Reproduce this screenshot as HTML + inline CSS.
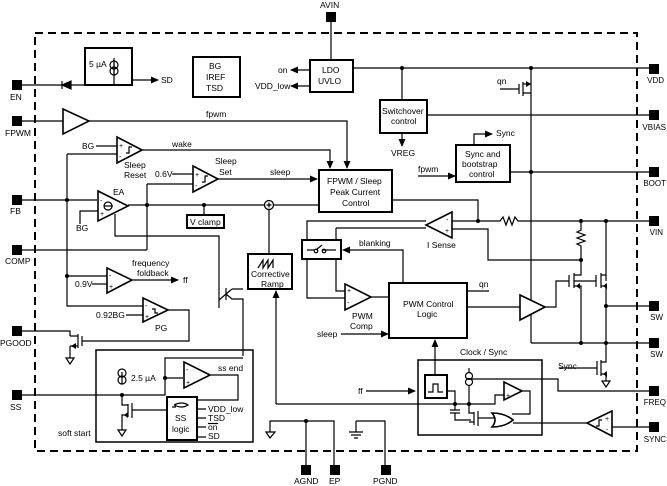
<!DOCTYPE html>
<html><head><meta charset="utf-8"><style>
html,body{margin:0;padding:0;background:#fff}
svg{display:block}
text{font-family:"Liberation Sans",Arial,sans-serif;font-size:8.5px;fill:#000}
.r{text-anchor:end;font-size:8px}
.l{stroke:#000;stroke-width:1.2;fill:none}
.b{stroke:#000;stroke-width:2;fill:#fff}
.t{stroke:#000;stroke-width:1.6;fill:#fff}
</style></head><body>
<svg width="667" height="486" viewBox="0 0 667 486" xmlns="http://www.w3.org/2000/svg">
<defs>
<marker id="a" markerWidth="8" markerHeight="8" refX="7" refY="4" orient="auto" markerUnits="userSpaceOnUse"><path d="M0,0.5 L8,4 L0,7.5Z" fill="#000"/></marker>
</defs>
<rect x="35" y="33" width="602" height="418" fill="none" stroke="#000" stroke-width="2" stroke-dasharray="8,5"/>

<g fill="#000">
<rect x="326" y="12" width="10" height="10"/>
<rect x="12" y="80" width="10" height="10"/>
<rect x="12" y="116" width="10" height="10"/>
<rect x="12" y="195" width="10" height="10"/>
<rect x="12" y="245" width="10" height="10"/>
<rect x="12" y="326" width="10" height="10"/>
<rect x="12" y="390" width="10" height="10"/>
<rect x="649" y="64" width="10" height="10"/>
<rect x="649" y="110" width="10" height="10"/>
<rect x="649" y="167" width="10" height="10"/>
<rect x="649" y="216" width="10" height="10"/>
<rect x="649" y="301" width="10" height="10"/>
<rect x="649" y="338" width="10" height="10"/>
<rect x="649" y="386" width="10" height="10"/>
<rect x="649" y="422" width="10" height="10"/>
<rect x="301" y="465" width="10" height="10"/>
<rect x="330" y="465" width="10" height="10"/>
<rect x="381" y="465" width="10" height="10"/>
</g>
<text x="320" y="8">AVIN</text>
<text x="10" y="100">EN</text>
<text x="5" y="136">FPWM</text>
<text x="10" y="214">FB</text>
<text x="5" y="264">COMP</text>
<text x="0" y="346">PGOOD</text>
<text x="10" y="410">SS</text>
<text x="664" y="83" class="r">VDD</text>
<text x="666" y="130" class="r">VBIAS</text>
<text x="666" y="186" class="r">BOOT</text>
<text x="663" y="235" class="r">VIN</text>
<text x="663" y="320" class="r">SW</text>
<text x="663" y="357" class="r">SW</text>
<text x="666" y="405" class="r">FREQ</text>
<text x="666" y="442" class="r">SYNC</text>
<text x="294" y="484">AGND</text>
<text x="329" y="484">EP</text>
<text x="373" y="484">PGND</text>

<rect class="b" x="85" y="48" width="47" height="37"/>
<path class="l" d="M20,85 H114 V58"/>
<path d="M62,81 V89 M62,85 L71,81 V89Z" stroke="#000" stroke-width="1.2" fill="#000"/>
<circle class="l" cx="114" cy="65" r="4"/><circle class="l" cx="114" cy="71" r="4"/>
<path class="l" d="M114,62 V74"/>
<text x="89" y="67">5 µA</text>
<path class="l" d="M132,80 H158" marker-end="url(#a)"/>
<text x="161" y="83">SD</text>

<rect class="b" x="193" y="57" width="47" height="40"/>
<text x="209" y="69">BG</text><text x="206" y="80">IREF</text><text x="206" y="91">TSD</text>

<path class="l" d="M331,22 V60"/>
<rect class="b" x="310" y="60" width="43" height="32"/>
<text x="322" y="73">LDO</text><text x="318" y="84">UVLO</text>
<path class="l" d="M310,70 H291" marker-end="url(#a)"/><text x="278" y="73">on</text>
<path class="l" d="M310,86 H291" marker-end="url(#a)"/><text x="255" y="89">VDD_low</text>
<path class="l" d="M353,68 H649"/>
<circle cx="402" cy="68" r="2"/><circle cx="531" cy="68" r="2"/>
<path class="l" d="M402,68 V100"/>
<rect class="b" x="380" y="100" width="47" height="33"/>
<text x="382" y="114">Switchover</text><text x="391" y="124">control</text>
<path class="l" d="M402,133 V146" marker-end="url(#a)"/>
<text x="391" y="156">VREG</text>
<path class="l" d="M427,115 H649"/>
<text x="497" y="84">qn</text>
<path class="l" d="M500,89 H519 M519,84 V94 M523,82 V96 M523,84 H531 M523,93 H531 M531,68 V343"/>
<path d="M531,84 L526,81 V87Z" fill="#000"/>
<rect class="b" x="456" y="145" width="54" height="37"/>
<text x="465" y="157">Sync and</text><text x="462" y="167">bootstrap</text><text x="469" y="177">control</text>
<path class="l" d="M474,145 V134 H492" marker-end="url(#a)"/><text x="496" y="136">Sync</text>
<path class="l" d="M418,176 H455" marker-end="url(#a)"/><text x="418" y="172">fpwm</text>
<path class="l" d="M510,172 H649"/><circle cx="531" cy="172" r="2"/>

<path class="l" d="M20,121 H63"/>
<path class="t" d="M63,109 L89,121 L63,134Z"/>
<path class="l" d="M89,121 H347 V168" marker-end="url(#a)"/>
<text x="206" y="117">fpwm</text>

<path class="t" d="M117,137 L142,150 L117,163Z"/>
<text x="119" y="148" style="font-size:7px">+</text><text x="119" y="159" style="font-size:7px">-</text>
<path class="l" d="M126,153 h3 v-6 h3"/>
<text x="82" y="149">BG</text><path class="l" d="M96,146 H117"/>
<path class="l" d="M142,150 H330 V168" marker-end="url(#a)"/><text x="172" y="147">wake</text>
<text x="124" y="168">Sleep</text><text x="124" y="178">Reset</text>
<path class="t" d="M193,166 L218,179 L193,192Z"/>
<text x="195" y="177" style="font-size:7px">+</text><text x="195" y="188" style="font-size:7px">-</text>
<path class="l" d="M202,182 h3 v-6 h3"/>
<text x="155" y="177">0.6V</text><path class="l" d="M172,174 H193"/>
<path class="l" d="M218,179 H317" marker-end="url(#a)"/><text x="270" y="175">sleep</text>
<text x="215" y="164">Sleep</text><text x="219" y="175">Set</text>
<rect class="b" x="319" y="170" width="73" height="42"/>
<text x="327" y="184">FPWM / Sleep</text><text x="330" y="195">Peak Current</text><text x="342" y="206">Control</text>

<path class="l" d="M20,200 H97 M67,154 H117 M67,154 V306 H143 M67,276 H107"/>
<circle cx="67" cy="200" r="2"/><circle cx="67" cy="276" r="2"/>
<path class="t" d="M98,191 L128,206 L98,221Z"/>
<circle class="l" cx="108" cy="206" r="4"/><path class="l" d="M104,206 H113"/>
<text x="100" y="203" style="font-size:7px">-</text><text x="100" y="216" style="font-size:7px">+</text>
<text x="113" y="195">EA</text>
<path class="l" d="M80,224 V211 H98"/><text x="76" y="231">BG</text>
<path class="l" d="M115,214 V236 H219 V300"/>
<path class="l" d="M128,205 H319"/>
<circle cx="147" cy="205" r="2"/><circle cx="204" cy="205" r="2"/>
<path class="l" d="M147,184 H193 M147,184 V250 M20,250 H147"/>
<path class="l" d="M204,205 V215"/>
<rect class="b" x="187" y="215" width="37" height="13"/><text x="190" y="225">V clamp</text>
<circle cx="269" cy="205" r="4.5" fill="#fff" stroke="#000" stroke-width="1.3"/>
<path class="l" d="M266.5,205 h5 M269,202.5 v5 M269,209.5 V254"/>

<rect class="b" x="248" y="254" width="44" height="35"/>
<path class="l" d="M258,268 l5,-8 v8 l5,-8 v8 l5,-8 v8"/>
<text x="251" y="277">Corrective</text><text x="261" y="287">Ramp</text>
<path class="l" d="M276,404 V291" marker-end="url(#a)"/>
<path class="l" d="M276,404 H455"/>

<path class="t" d="M107,268 L132,280 L107,293Z"/>
<text x="109" y="278" style="font-size:7px">-</text><text x="109" y="289" style="font-size:7px">+</text>
<text x="75" y="287">0.9V</text><path class="l" d="M92,284 H107"/>
<path class="l" d="M132,280 H178" marker-end="url(#a)"/><text x="183" y="283">ff</text>
<text x="132" y="266">frequency</text><text x="137" y="276">foldback</text>
<path class="t" d="M143,298 L168,310 L143,322Z"/>
<text x="145" y="308" style="font-size:7px">-</text><text x="145" y="319" style="font-size:7px">+</text>
<path class="l" d="M152,309 h3 v4 h3"/>
<text x="96" y="318">0.92BG</text><path class="l" d="M126,315 H143"/>
<text x="155" y="331">PG</text>
<path class="l" d="M168,310 H189 V341 H82 M82,336 V346"/>
<path class="l" d="M20,331 H70 V336 M78,334 V348 M70,336 H78 M70,346 H78 M70,346 V358"/>
<path d="M71,346 L76,343 V349Z" fill="#000"/>
<path class="l" d="M66,358 H74 L70,364Z"/>
<path class="l" d="M219,300 V308 M219,300 L226,294 M226,288 V300 M226,294 L232,289 M226,294 L232,299 H243 V356 M232,289 H243"/>

<rect x="96" y="350" width="157" height="92" fill="none" stroke="#000" stroke-width="1.5"/>
<text x="58" y="436">soft start</text>
<path class="l" d="M20,395 H165 V378 H183 M165,378 V358 H243"/>
<circle cx="165" cy="378" r="2"/><circle cx="122" cy="395" r="2"/>
<circle class="l" cx="122" cy="373" r="4"/><circle class="l" cx="122" cy="380" r="4"/>
<path class="l" d="M122,372 V384"/><text x="131" y="381">2.5 µA</text>
<path class="t" d="M184,362 L210,375 L184,388Z"/>
<text x="186" y="372" style="font-size:7px">-</text><text x="186" y="385" style="font-size:7px">+</text>
<path class="l" d="M210,375 H238 V400 H197"/><text x="218" y="371">ss end</text>
<rect class="b" x="167" y="397" width="30" height="43"/>
<path class="l" d="M174,405 q8,-4 14,0 q-6,4 -14,0 M172,407 h4"/>
<text x="175" y="421">SS</text><text x="172" y="432">logic</text>
<path class="l" d="M197,409 H206 M197,418 H206 M197,427 H206 M197,437 H206"/>
<text x="208" y="412">VDD_low</text><text x="208" y="421">TSD</text><text x="208" y="430">on</text><path class="l" d="M208,423.5 h10" stroke-width="0.8"/><text x="208" y="439">SD</text>
<path class="l" d="M122,395 V405 H128 M128,404 V417 M132,403 V418 M132,410 H167 M128,415 H122 V430"/>
<path d="M124,415 L128,412 V418Z" fill="#000"/>
<path class="l" d="M118,430 H126 L122,436Z"/>

<path class="l" d="M266,432 H275 L270,438Z M270,432 V421 H334 V465 M306,421 V465"/>
<circle cx="306" cy="421" r="2"/>
<path class="l" d="M356,421 H385 V465 M356,421 V432 M349,432 H363 M351,435 H361 M354,438 H358"/>

<path class="l" d="M392,200 H478 V221"/>
<circle cx="478" cy="221" r="2"/>
<path class="l" d="M452,221 H500 l3,-4 l3,8 l3,-8 l3,8 l3,-8 l3,4 H649"/>
<circle cx="581" cy="221" r="2"/><circle cx="606" cy="221" r="2"/>
<path class="t" d="M452,212 L426,225 L452,238Z"/>
<text x="446" y="222" style="font-size:7px">-</text><text x="445" y="233" style="font-size:7px">+</text>
<text x="427" y="248">I Sense</text>
<path class="l" d="M452,229 H488 V260 H581 M336,228 H426"/>
<path class="l" d="M426,221 H307 V298 H345 M336,228 V291 H345"/>
<path class="l" d="M581,221 V230 l-4,2 l8,3 l-8,3 l8,3 l-8,3 l4,2 V260"/>
<circle cx="581" cy="260" r="2"/>
<path class="l" d="M606,221 V281"/>
<rect class="b" x="302" y="240" width="39" height="19"/>
<path class="l" d="M307,250 H314 M322,250 H336 M316,250 l6,-5"/>
<circle class="l" cx="316" cy="251" r="1.8"/><circle class="l" cx="324" cy="251" r="1.8"/>
<path class="l" d="M403,283 V250 H343" marker-end="url(#a)"/>
<text x="359" y="246">blanking</text>
<path class="t" d="M345,284 L371,297 L345,310Z"/>
<text x="347" y="293" style="font-size:7px">+</text><text x="347" y="305" style="font-size:7px">-</text>
<text x="352" y="319">PWM</text><text x="350" y="329">Comp</text>
<path class="l" d="M371,297 H389"/>
<rect class="b" x="389" y="283" width="78" height="55"/>
<text x="403" y="307">PWM Control</text><text x="417" y="317">Logic</text>
<path class="l" d="M467,291 H489"/><text x="479" y="287">qn</text>
<text x="317" y="337">sleep</text><path class="l" d="M341,334 H388" marker-end="url(#a)"/>
<path class="l" d="M467,307 H520"/>
<path class="t" d="M520,295 L545,307 L520,320Z"/>
<path class="l" d="M545,307 H556 V281 H569 M574,281 H596"/>
<path class="l" d="M569,275 V287 M574,273 V288 M574,275 H581 V260 M574,286 H581 V343 M596,275 V287 M601,273 V288 M601,275 H606 M601,286 H606 V343"/>
<path d="M576,286 L580,283 V289Z M603,286 L607,283 V289Z" fill="#000"/>
<path class="l" d="M606,306 H649 M531,343 H649"/>
<circle cx="606" cy="306" r="2"/><circle cx="581" cy="343" r="2"/><circle cx="606" cy="343" r="2"/>
<path class="l" d="M606,343 V362 H601 M601,360 V376 M597,361 V375 M601,374 H606 V381 M559,368 H597"/>
<path d="M603,374 L607,371 V377Z" fill="#000"/>
<path class="l" d="M602,381 H610 L606,387Z"/>
<text x="558" y="369">Sync</text>

<text x="460" y="355">Clock / Sync</text>
<rect x="418" y="360" width="124" height="75" fill="none" stroke="#000" stroke-width="1.5"/>
<path class="l" d="M435,375 V340" marker-end="url(#a)"/>
<path class="l" d="M366,391 H415" marker-end="url(#a)"/><text x="358" y="394">ff</text>
<rect class="b" x="425" y="375" width="22" height="23"/>
<path class="l" d="M428,392 h5 v-8 h5 v8 h5"/>
<path class="l" d="M447,391 H455 V404 M455,404 V410 M450,410 H460 M450,413 H460 M455,413 V420 H471"/>
<circle cx="455" cy="404" r="2"/><circle cx="469" cy="404" r="2"/>
<path class="l" d="M455,404 H495 V395 H504"/>
<circle class="l" cx="469" cy="376" r="3.5"/><circle class="l" cx="469" cy="382" r="3.5"/>
<path class="l" d="M469,368 V372 M469,385 V413 H474 M474,412 V425 M478,411 V426 M478,418 H494 M474,422 H469"/>
<path class="l" d="M472,379 H558 V391 H649"/>
<path class="t" d="M504,382 L522,391 L504,400Z"/>
<text x="506" y="398" style="font-size:7px">+</text>
<path class="l" d="M522,391 H530 V414 H512"/>
<path class="t" d="M492,413 Q505,413 513,420 Q505,427 492,427 Q498,420 492,413Z"/>
<path class="l" d="M513,423 H587 M612,427 H649"/>
<path class="t" d="M612,411 L587,423 L612,436Z"/>
<path class="l" d="M596,426 h3 v-6 h3"/>
<text x="605" y="421" style="font-size:7px">+</text><text x="606" y="432" style="font-size:7px">-</text>
</svg>
</body></html>
